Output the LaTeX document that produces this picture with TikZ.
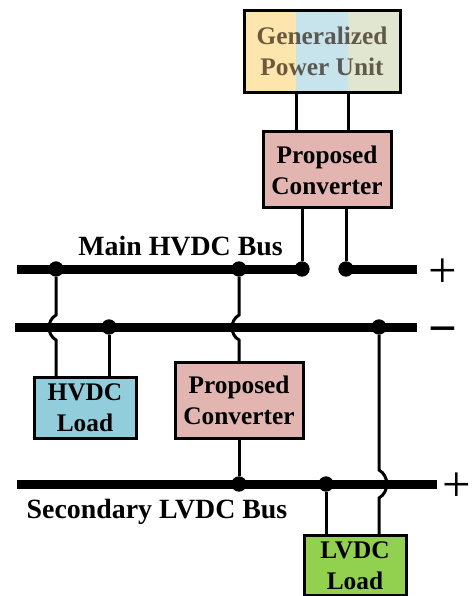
\documentclass[tikz,border=0pt]{standalone}
\usepackage{fontspec}
\setmainfont{Liberation Serif}
\usepackage{tikz}
\usetikzlibrary{positioning,calc}
\definecolor{unityellow}{HTML}{FDE5AE}
\definecolor{unitblue}{HTML}{C7E3EC}
\definecolor{unitgreen}{HTML}{E0E6CF}
\definecolor{convpink}{HTML}{E3B5B1}
\definecolor{hvdcblue}{HTML}{92CDDC}
\definecolor{lvdcgreen}{HTML}{92D050}
\tikzset{
    box/.style={rectangle, draw, line width=2.25pt, inner sep=0pt, outer sep=0pt, align=center, font=\fontsize{19}{23.25}\selectfont\bfseries},
    converter/.style={box, fill=convpink, minimum width=96pt, minimum height=57pt},
    load/.style={box, minimum width=76.5pt, minimum height=45.5pt},
    band/.style={rectangle, inner sep=0pt, outer sep=0pt, minimum width=39pt, minimum height=62pt},
    bus/.style={line width=6.75pt},
    wire/.style={line width=2.25pt},
    jump/.style={wire, looseness=1.1},
    dot/.style={circle, fill=black, inner sep=0pt, minimum size=11.5pt},
    buslabel/.style={font=\fontsize{20.9}{24}\selectfont\bfseries, inner sep=0pt},
    polarity/.style={font=\fontsize{38}{38}\selectfont, inner sep=0pt}
}
\begin{document}
\begin{tikzpicture}[x=0.75pt, y=-0.75pt]
    \useasboundingbox (0,0) rectangle (472,596);

    % Generalized unit
    \node[band, fill=unitblue] (bandb) at (322,51.5) {};
    \node[band, fill=unityellow, left=0pt of bandb] (banda) {};
    \node[band, fill=unitgreen, right=0pt of bandb] (bandc) {};
    \node[box, text=black!80!orange!60!black, text opacity=0.65, minimum width=117pt, minimum height=62pt] (unit) at (bandb) {Generalized\\Power Unit};

    % Top converter
    \node[converter, below=29.25pt of unit, xshift=3.75pt] (topconv) {Proposed\\Converter};

    % Buses
    \coordinate (maina) at (17,269);
    \coordinate (mainb) at (302,269);
    \coordinate (mainc) at (346,269);
    \coordinate (maind) at (417,269);
    \coordinate (nega) at (15,327);
    \coordinate (negb) at (417,327);
    \coordinate (seca) at (17,484);
    \coordinate (secb) at (437,484);
    \draw[bus] (maina) -- (mainb);
    \draw[bus] (mainc) -- (maind);
    \draw[bus] (nega) -- (negb);
    \draw[bus] (seca) -- (secb);

    % Dots
    \node[dot] (dotmaina) at (56,269) {};
    \node[dot] (dotmainb) at (239,269) {};
    \node[dot] (dotmainc) at (mainb) {};
    \node[dot] (dotmaind) at (mainc) {};
    \node[dot] (dotnega) at (109,327) {};
    \node[dot] (dotnegb) at (379,327) {};
    \node[dot] (dotseca) at (239,484) {};
    \node[dot] (dotsecb) at (326,484) {};

    % Lower boxes
    \node[load, fill=hvdcblue] (hvdc) at (85,408) {HVDC\\Load};
    \node[converter, right=29.25pt of hvdc, yshift=5.6pt, minimum height=57.5pt] (lowconv) {Proposed\\Converter};
    \node[load, fill=lvdcgreen] (lvdc) at (355,565.5) {LVDC\\Load};

    % Labels
    \node[buslabel] (mainlabel) at (180.5,246) {Main HVDC Bus};
    \node[buslabel] (seclabel) at (157,512) {Secondary LVDC Bus};
    \node[polarity] (plusa) at (443,273) {+};
    \node[polarity, font=\fontsize{38}{38}\selectfont\bfseries] (minus) at (443,336) {−};
    \node[polarity] (plusb) at (457,487) {+};

    % Wires
    \draw[wire] (banda.south east) -- (banda.south east |- topconv.north);
    \draw[wire] (bandb.south east) -- (bandb.south east |- topconv.north);
    \draw[wire] (dotmainc) -- (dotmainc |- topconv.south);
    \draw[wire] (dotmaind) -- (dotmaind |- topconv.south);
    \draw[jump] (dotmaina) -- ($(dotmaina)+(0,46)$) to[bend right=60] ($(dotmaina)+(0,71)$) -- (dotmaina |- hvdc.north);
    \draw[wire] (dotnega) -- (dotnega |- hvdc.north);
    \draw[jump] (dotmainb) -- ($(dotmainb)+(0,46)$) to[bend right=60] ($(dotmainb)+(0,71)$) -- (dotmainb |- lowconv.north);
    \draw[wire] (lowconv.south -| dotseca) -- (dotseca);
    \draw[wire] (dotsecb) -- (dotsecb |- lvdc.north);
    \draw[jump] (dotnegb) -- ($(dotnegb)+(0,143)$) to[bend left=60] ($(dotnegb)+(0,171)$) -- (dotnegb |- lvdc.north);
\end{tikzpicture}
\end{document}
